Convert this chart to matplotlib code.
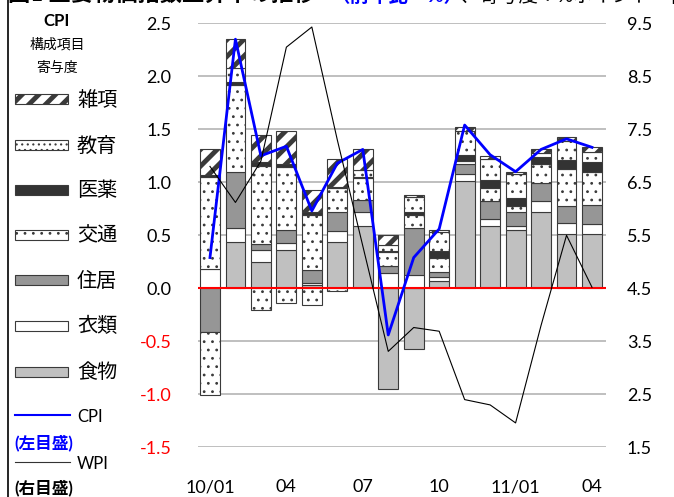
import numpy as np
import matplotlib.pyplot as plt
from matplotlib.patches import Rectangle
from matplotlib.lines import Line2D

plt.rcParams['font.family'] = ['Lato', 'Noto Sans CJK JP']

W, H = 674, 497

months = ['10/01', '', '', '04', '', '', '07', '', '', '10', '', '', '11/01', '', '', '04']

# CPI contributions (percentage points)
food      = [0.00, 0.44, 0.25, 0.36, 0.03, 0.44, 0.59, -0.95, -0.57, 0.07, 1.01, 0.59, 0.55, 0.72, 0.51, 0.51]
clothes   = [0.18, 0.13, 0.11, 0.07, 0.02, 0.10, 0.13, 0.14, 0.13, 0.04, 0.07, 0.06, 0.04, 0.10, 0.11, 0.10]
housing   = [-0.41, 0.53, 0.06, 0.12, 0.12, 0.18, 0.11, 0.07, 0.44, 0.04, 0.09, 0.17, 0.13, 0.17, 0.16, 0.18]
transport = [0.87, 0.82, 0.73, 0.59, 0.52, 0.23, 0.21, 0.13, 0.12, 0.14, 0.03, 0.13, 0.06, 0.18, 0.35, 0.31]
medical   = [0.02, 0.03, 0.04, 0.03, 0.03, 0.01, 0.01, 0.01, 0.03, 0.06, 0.06, 0.07, 0.07, 0.07, 0.08, 0.09]
education = [-0.60, 0.13, -0.20, -0.14, -0.16, -0.03, 0.07, 0.06, 0.14, 0.18, 0.22, 0.20, 0.23, 0.04, 0.18, 0.10]
misc      = [0.24, 0.27, 0.26, 0.31, 0.21, 0.26, 0.19, 0.09, 0.02, 0.02, 0.04, 0.03, 0.02, 0.03, 0.04, 0.04]

cpi = [0.29, 2.35, 1.25, 1.34, 0.73, 1.18, 1.31, -0.44, 0.29, 0.56, 1.54, 1.26, 1.10, 1.31, 1.41, 1.33]
wpi = [6.80, 6.12, 6.90, 9.05, 9.43, 7.30, 5.30, 3.31, 3.76, 3.69, 2.40, 2.30, 1.96, 3.80, 5.50, 4.52]

names = ['食物', '衣類', '住居', '交通', '医薬', '教育', '雑項']
series = [food, clothes, housing, transport, medical, education, misc]
# facecolor, hatch, hatch linewidth
styles = [('#c0c0c0', None, 1.0),
          ('white', None, 1.0),
          ('#969696', None, 1.0),
          ('white', '..', 0.8),
          ('#333333', None, 1.0),
          ('white', '..', 0.8),
          ('white', '//', 3.5)]
legend_hatch = [None, None, None, '..', None, '...', '//']


def fx(x):
    return x / W


def fy(y):
    return 1 - y / H


fig = plt.figure(figsize=(W / 100, H / 100), dpi=100)
ax = fig.add_axes([fx(198), fy(447.3), (606 - 198) / W, (447.3 - 23.3) / H])

x = np.arange(len(months))
pos_bottom = np.zeros(len(x))
neg_bottom = np.zeros(len(x))
for vals, (fc, hatch, hlw) in zip(series, styles):
    v = np.array(vals)
    bottom = np.where(v >= 0, pos_bottom, neg_bottom)
    with plt.rc_context({'hatch.linewidth': hlw}):
        ax.bar(x, v, 0.78, bottom=bottom, color=fc, edgecolor='#3a3a3a',
               linewidth=0.8, hatch=hatch, zorder=2)
    pos_bottom += np.where(v >= 0, v, 0)
    neg_bottom += np.where(v < 0, v, 0)

ax.plot(x, cpi, color='#0000ff', lw=2, zorder=5)
ax.axhline(0, color='#ff0000', lw=1.5, zorder=4)

ax.set_xlim(-0.47, 15.55)
ax.set_ylim(-1.5, 2.5)
yt = np.arange(-1.5, 2.51, 0.5)
ax.set_yticks(yt)
ax.set_yticklabels(['%.1f' % v for v in yt])
for lab, v in zip(ax.get_yticklabels(), yt):
    lab.set_color('#ff0000' if v < 0 else 'black')
ax.yaxis.grid(True, color='#b4b4b4', lw=1.2)
ax.set_axisbelow(True)
ax.set_xticks(x)
ax.set_xticklabels(months)
ax.tick_params(axis='both', length=0, labelsize=13)
ax.tick_params(axis='y', pad=19)
ax.tick_params(axis='x', pad=23)
for s in ax.spines.values():
    s.set_visible(False)

ax2 = ax.twinx()
ax2.plot(x, wpi, color='black', lw=0.8)
ax2.set_ylim(1.5, 9.5)
ax2.set_yticks(np.arange(1.5, 9.51, 1.0))
ax2.set_yticklabels(['%.1f' % v for v in np.arange(1.5, 9.51, 1.0)])
ax2.tick_params(axis='y', length=0, labelsize=13, pad=15)
for s in ax2.spines.values():
    s.set_visible(False)

# left legend
fig.text(fx(57), fy(21), 'CPI', ha='center', va='center', fontsize=12, fontweight='bold')
fig.text(fx(57), fy(44), '構成項目', ha='center', va='center', fontsize=10)
fig.text(fx(57), fy(67), '寄与度', ha='center', va='center', fontsize=10)

leg_y = [99, 145, 190, 235, 280, 326, 372]
for name, (fc, hatch, hlw), lh, yy in zip(names[::-1], styles[::-1], legend_hatch[::-1], leg_y):
    with plt.rc_context({'hatch.linewidth': hlw}):
        r = Rectangle((fx(15), fy(yy + 5)), 53 / W, 10 / H, transform=fig.transFigure,
                      facecolor=fc, edgecolor='#3a3a3a', lw=0.8, hatch=lh)
    fig.add_artist(r)
    fig.text(fx(77), fy(yy), name, ha='left', va='center', fontsize=14.5)

fig.add_artist(Line2D([fx(15), fx(70)], [fy(415), fy(415)], color='#0000ff', lw=1.5,
                      transform=fig.transFigure))
fig.text(fx(77), fy(417), 'CPI', ha='left', va='center', fontsize=12)
fig.text(fx(14), fy(443), '(左目盛)', ha='left', va='center', fontsize=12,
         fontweight='bold', color='#0000ff')
fig.add_artist(Line2D([fx(15), fx(70)], [fy(462), fy(462)], color='#333333', lw=0.8,
                      transform=fig.transFigure))
fig.text(fx(77), fy(464), 'WPI', ha='left', va='center', fontsize=12)
fig.text(fx(14), fy(488), '(右目盛)', ha='left', va='center', fontsize=12, fontweight='bold')

# title line cut off at the top edge, as in the source image
fig.text(fx(8), fy(5), '図1 主要物価指数上昇率の推移', ha='left', va='bottom',
         fontsize=16, fontweight='bold')
fig.text(fx(330), fy(5), '（前年比・%）', ha='left', va='bottom', fontsize=14,
         fontweight='bold', color='#0000ff')
fig.text(fx(460), fy(5), '、寄与度：%ポイント　出所：主計処', ha='left', va='bottom',
         fontsize=14)
fig.add_artist(Line2D([fx(7.5), fx(7.5)], [0, 1], color='black', lw=1.2,
                      transform=fig.transFigure))

fig.savefig('out.png', dpi=100)
